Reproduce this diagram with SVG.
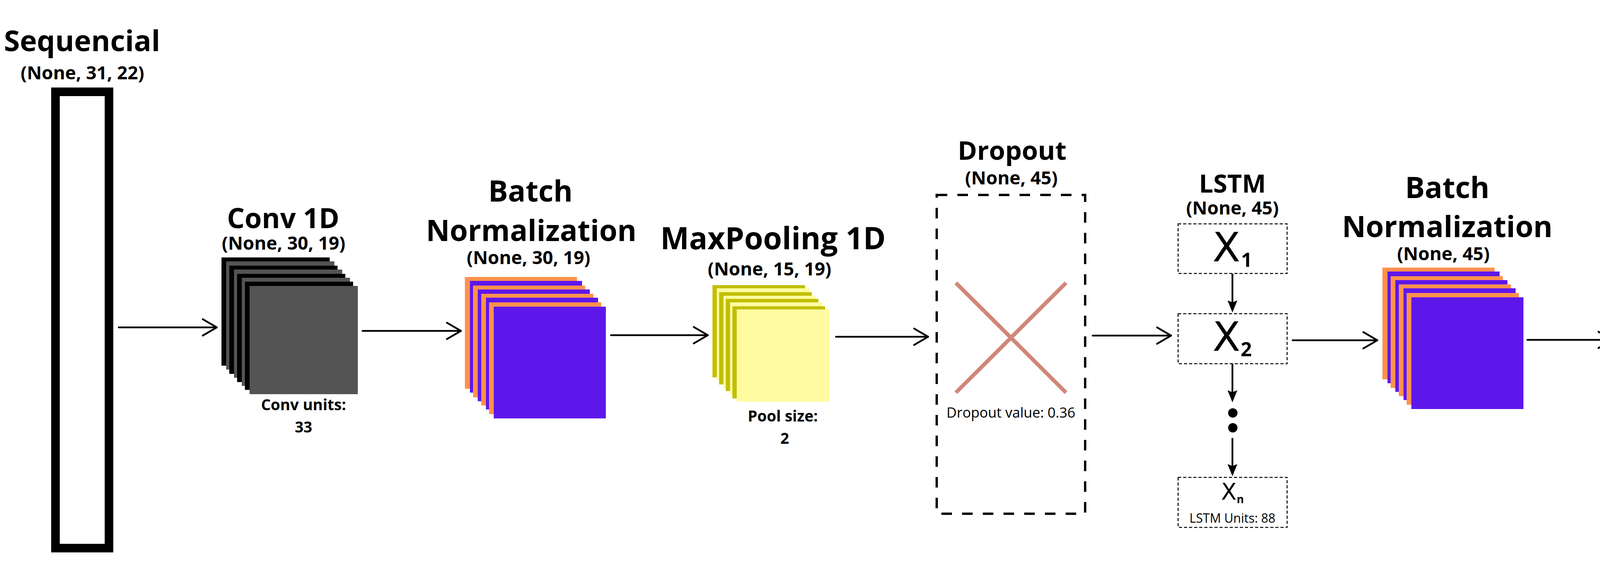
<svg xmlns="http://www.w3.org/2000/svg" width="6000" height="1500" viewBox="0 0 6000 1500">
<style>
.title{font-family:"Open Sans","Liberation Sans",sans-serif;font-weight:700;fill:#000;text-anchor:middle}
.sub{font-family:"Open Sans","Liberation Sans",sans-serif;font-weight:700;font-size:47px;fill:#000;text-anchor:middle}
.note{font-family:"Open Sans","Liberation Sans",sans-serif;font-weight:700;font-size:39px;fill:#000;text-anchor:middle}
.reg{font-family:"Open Sans","Liberation Sans",sans-serif;font-weight:400;fill:#000;text-anchor:middle}
.xv{font-family:"DejaVu Sans",sans-serif;font-weight:400;fill:#000}
.xs{font-family:"Open Sans","Liberation Sans",sans-serif;font-weight:700;fill:#000}
.conn{stroke:#000;stroke-width:4.5;fill:none;stroke-linecap:round}
.conn-open{marker-end:url(#open)}
.conn-fill{marker-end:url(#solid);stroke-linecap:butt}
.drop{fill:none;stroke:#000;stroke-width:6;stroke-dasharray:27 26}
.cross{stroke:#D0877A;stroke-width:10;fill:none}
.lbox{fill:none;stroke:#000;stroke-width:2.5;stroke-dasharray:8 5}
.dbox{fill:#fff;stroke:#000;stroke-width:4}
.k{fill:#000}.g{fill:#545454}
.o{fill:#FF914D}.p{fill:#5E17EB}
.ol{fill:#C2BE00}.ye{fill:#FFFBA1}
.pk{fill:#FF66C4}
</style>
<defs>
<marker id="open" markerUnits="userSpaceOnUse" markerWidth="80" markerHeight="80" refX="0" refY="0" orient="auto" overflow="visible" viewBox="-40 -40 80 80">
<path d="M-36,-21 L0,0 L-36,21" fill="none" stroke="#000" stroke-width="4.5" stroke-linecap="round" stroke-linejoin="round"/>
</marker>
<marker id="solid" markerUnits="userSpaceOnUse" markerWidth="80" markerHeight="80" refX="0" refY="0" orient="auto" overflow="visible" viewBox="-40 -40 80 80">
<path d="M26,0 L-5,-12.5 L0,0 L-5,12.5 Z" fill="#000"/>
</marker>
</defs>
<rect width="6000" height="1500" fill="#fff"/>

<g id="sequencial">
<text class="title" x="210" y="131" font-size="74">Sequencial</text>
<text class="sub" x="211" y="203">(None, 31, 22)</text>
<rect x="142" y="235" width="137" height="1168" fill="none" stroke="#000" stroke-width="22"/>
</g>

<g id="conv1d">
<text class="title" x="725" y="584" font-size="71">Conv 1D</text>
<text class="sub" x="726" y="639">(None, 30, 19)</text>
<rect class="k" x="567" y="659" width="277" height="277"/>
<rect class="g" x="579" y="669" width="277" height="277"/>
<rect class="k" x="587" y="680" width="277" height="277"/>
<rect class="g" x="599" y="690" width="277" height="277"/>
<rect class="k" x="607" y="701" width="277" height="277"/>
<rect class="g" x="619" y="711" width="277" height="277"/>
<rect class="k" x="627" y="721" width="277" height="277"/>
<rect class="g" x="639" y="732" width="277" height="277"/>
<text class="note" x="777" y="1050">Conv units:</text>
<text class="note" x="777" y="1107">33</text>
</g>

<g id="batchnorm1">
<text class="title" x="1358" y="516" font-size="75">Batch</text>
<text class="title" x="1360" y="617" font-size="75">Normalization</text>
<text class="sub" x="1353" y="676">(None, 30, 19)</text>
<rect class="o" x="1190" y="709" width="287" height="286"/>
<rect class="p" x="1203" y="719" width="287" height="286"/>
<rect class="o" x="1211" y="731" width="287" height="286"/>
<rect class="p" x="1223" y="741" width="287" height="286"/>
<rect class="o" x="1232" y="752" width="287" height="286"/>
<rect class="p" x="1244" y="762" width="287" height="286"/>
<rect class="o" x="1252" y="774" width="287" height="286"/>
<rect class="p" x="1264" y="785" width="287" height="286"/>
</g>

<g id="maxpooling1d">
<text class="title" x="1979" y="638" font-size="78">MaxPooling 1D</text>
<text class="sub" x="1970" y="705">(None, 15, 19)</text>
<rect class="ol" x="1824" y="730" width="237" height="236"/>
<rect class="ye" x="1835" y="738" width="237" height="236"/>
<rect class="ol" x="1841" y="748" width="237" height="236"/>
<rect class="ye" x="1852" y="757" width="237" height="236"/>
<rect class="ol" x="1858" y="765" width="237" height="236"/>
<rect class="ye" x="1869" y="774" width="237" height="236"/>
<rect class="ol" x="1875" y="784" width="237" height="236"/>
<rect class="ye" x="1886" y="792" width="237" height="236"/>
<text class="note" x="2004" y="1079">Pool size:</text>
<text class="note" x="2009" y="1136">2</text>
</g>

<g id="dropout1">
<text class="title" x="2591" y="409" font-size="67">Dropout</text>
<text class="sub" x="2589" y="472">(None, 45)</text>
<rect class="drop" x="2398" y="499" width="380" height="816"/>
<line class="cross" x1="2447" y1="724" x2="2729" y2="1005"/>
<line class="cross" x1="2729" y1="724" x2="2447" y2="1005"/>
<text class="reg" x="2588" y="1069" font-size="36">Dropout value: 0.36</text>
</g>

<g id="lstm">
<text class="title" x="3155" y="493" font-size="65">LSTM</text>
<text class="sub" x="3155" y="549">(None, 45)</text>
<rect class="lbox" x="3016" y="573" width="279" height="127"/>
<text class="xv" x="3104" y="669" font-size="104">X</text>
<text class="xs" x="3177" y="683" font-size="50">1</text>
<rect class="lbox" x="3016" y="803" width="279" height="128"/>
<text class="xv" x="3104" y="898" font-size="104">X</text>
<text class="xs" x="3176" y="912" font-size="50">2</text>
<circle cx="3156" cy="1057" r="12" fill="#000"/>
<circle cx="3156" cy="1095" r="12" fill="#000"/>
<rect class="lbox" x="3016" y="1222" width="279" height="128"/>
<text class="xv" x="3126" y="1279" font-size="58">X</text>
<text class="xs" x="3166" y="1288" font-size="28">n</text>
<text class="reg" x="3155" y="1338" font-size="32">LSTM Units: 88</text>
</g>

<g id="batchnorm2">
<text class="title" x="3705" y="507" font-size="75">Batch</text>
<text class="title" x="3705" y="607" font-size="75">Normalization</text>
<text class="sub" x="3695" y="666">(None, 45)</text>
<rect class="o" x="3539" y="685" width="287" height="286"/>
<rect class="p" x="3552" y="695" width="287" height="286"/>
<rect class="o" x="3560" y="707" width="287" height="286"/>
<rect class="p" x="3572" y="717" width="287" height="286"/>
<rect class="o" x="3581" y="728" width="287" height="286"/>
<rect class="p" x="3593" y="738" width="287" height="286"/>
<rect class="o" x="3601" y="750" width="287" height="286"/>
<rect class="p" x="3613" y="761" width="287" height="286"/>
</g>

<g id="dropout2">
<text class="title" x="4332" y="404" font-size="67">Dropout</text>
<text class="sub" x="4331" y="481">(None, 45)</text>
<rect class="drop" x="4142" y="498" width="381" height="816"/>
<line class="cross" x1="4190" y1="724" x2="4473" y2="1004"/>
<line class="cross" x1="4473" y1="724" x2="4190" y2="1004"/>
<text class="reg" x="4332" y="1067" font-size="36">Dropout value: 0.43</text>
</g>

<g id="flatten">
<text class="title" x="4853" y="667" font-size="77">Flatten</text>
<text class="sub" x="4850" y="725">(None, 45)</text>
<polygon points="4712,743 4892,743 5086,1032 4907,1032" fill="#7ED957"/>
<polygon class="pk" points="4712,743 4728,743 4918,1032 4907,1032"/>
<polygon class="pk" points="4743,743 4759,743 4948,1032 4932,1032"/>
<polygon class="pk" points="4771,743 4787,743 4976,1032 4960,1032"/>
<polygon class="pk" points="4800,743 4816,743 5006,1032 4989,1032"/>
<polygon points="4712,743 4892,743 5086,1032 4907,1032" fill="none" stroke="#000" stroke-width="3" stroke-linejoin="round"/>
</g>

<g id="dense">
<text class="title" x="5429" y="502" font-size="77">Dense</text>
<text class="sub" x="5428" y="563">(None, 2)</text>
<text x="5424" y="616" font-family="'Open Sans','Liberation Sans',sans-serif" font-weight="700" font-style="italic" font-size="37" fill="#004AAD" text-anchor="middle">Softmax</text>
<rect class="dbox" x="5292" y="633" width="270" height="136"/>
<rect class="dbox" x="5292" y="769" width="270" height="136"/>
<rect class="dbox" x="5292" y="905" width="270" height="136"/>
<circle cx="5428" cy="1074" r="8.5" fill="#000"/>
<circle cx="5428" cy="1104" r="8.5" fill="#000"/>
<rect class="dbox" x="5292" y="1137" width="270" height="135"/>
<path d="M5573,634 C5625,636 5658,668 5658,718 L5658,872 C5658,905 5668,930 5688,949 C5668,966 5657,990 5657,1022 L5657,1185 C5657,1235 5625,1268 5573,1271 L5573,1267 C5615,1262 5641,1232 5641,1185 L5641,1022 C5641,990 5652,966 5672,949 C5652,932 5642,905 5642,872 L5642,718 C5642,672 5615,642 5573,638 Z" fill="#000"/>
</g>

<g id="outputs">
<text class="xv" x="5962" y="868" font-size="124" text-anchor="middle">0</text>
<text class="xv" x="5960" y="1102" font-size="124" text-anchor="middle">1</text>
</g>

<g id="connectors">
<line class="conn conn-open" x1="304" y1="838" x2="555" y2="838"/>
<line class="conn conn-open" x1="928" y1="847" x2="1180" y2="847"/>
<line class="conn conn-open" x1="1564" y1="858" x2="1812" y2="858"/>
<line class="conn conn-open" x1="2140" y1="862" x2="2376" y2="862"/>
<line class="conn conn-open" x1="2797" y1="859" x2="2998" y2="859"/>
<line class="conn conn-open" x1="3309" y1="871" x2="3526" y2="871"/>
<line class="conn conn-open" x1="3910" y1="870" x2="4128" y2="870"/>
<line class="conn conn-open" x1="4552" y1="883" x2="4769" y2="883"/>
<line class="conn conn-open" x1="5025" y1="881" x2="5279" y2="881"/>
<line class="conn conn-open" x1="5683" y1="947" x2="5905" y2="842"/>
<line class="conn conn-open" x1="5683" y1="947" x2="5903" y2="1049"/>
<line class="conn conn-fill" x1="3155" y1="701" x2="3155" y2="774"/>
<line class="conn conn-fill" x1="3155" y1="931" x2="3155" y2="1004"/>
<line class="conn conn-fill" x1="3155" y1="1121" x2="3155" y2="1193"/>
</g>
</svg>
